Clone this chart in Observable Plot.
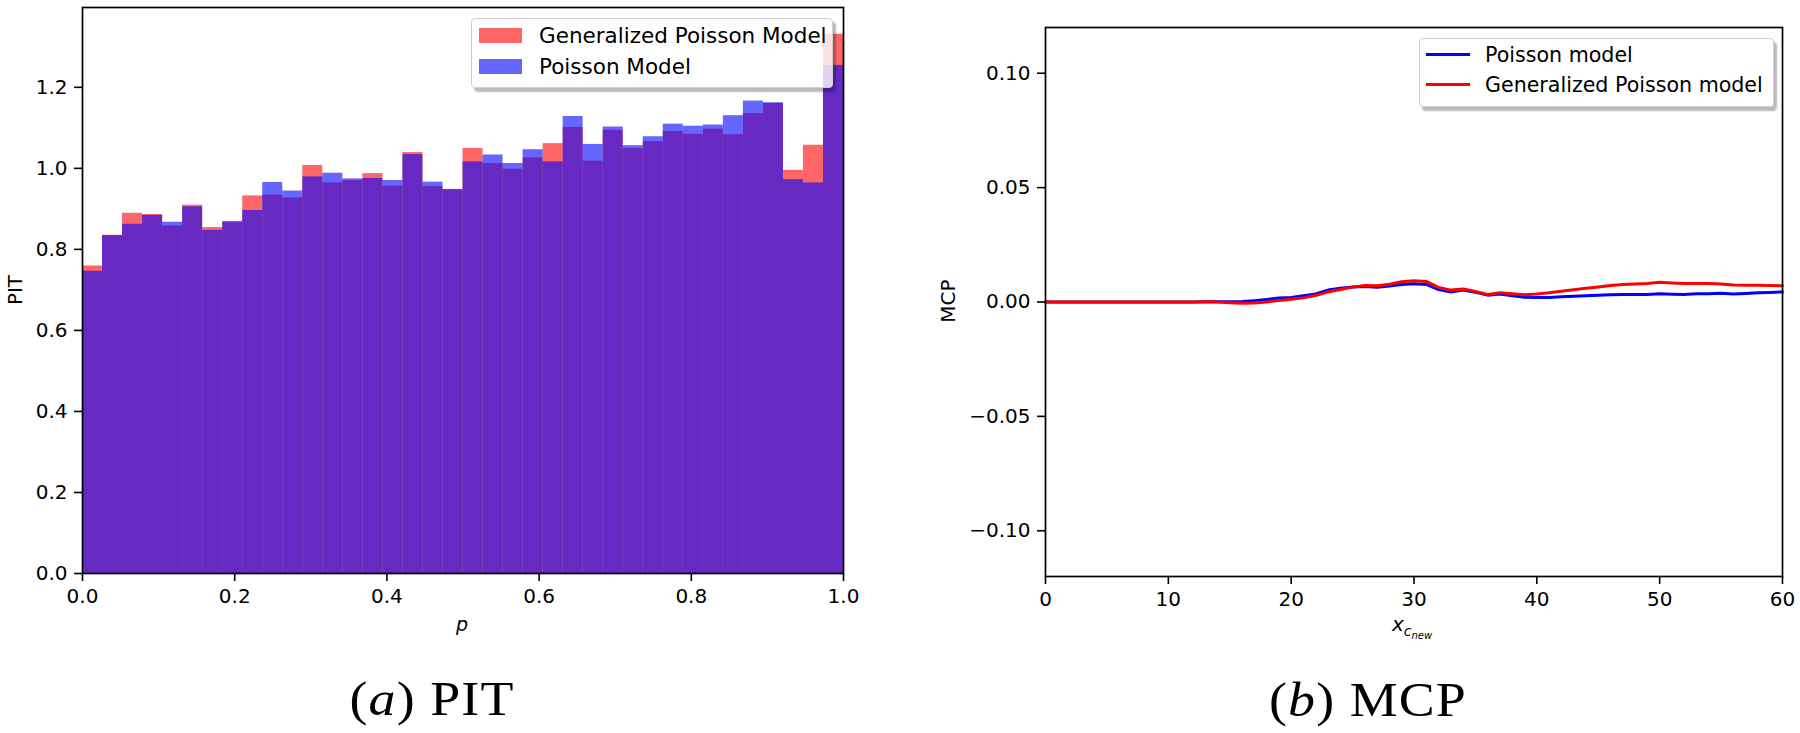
<!DOCTYPE html>
<html>
<head>
<meta charset="utf-8">
<script src="https://cdn.jsdelivr.net/npm/d3@7"></script>
<script src="https://cdn.jsdelivr.net/npm/@observablehq/plot@0.6"></script>
<style>
  html, body { margin: 0; padding: 0; background: #fff; }
  #root { position: relative; width: 1800px; height: 733px; overflow: hidden; font-family: "DejaVu Sans", sans-serif; color: #000; }
  #root > .panel { position: absolute; top: 0; }
  .abs { position: absolute; white-space: nowrap; }
  .lbl { font-size: 20px; line-height: 20px; }
  .legend { position: absolute; background: rgba(255,255,255,0.8); border: 1px solid #d0d0d0; border-radius: 4px; box-shadow: 3px 4px 2px rgba(0,0,0,0.28); box-sizing: border-box; }
  .cap { font-family: "Liberation Serif", serif; font-size: 49px; line-height: 49px; letter-spacing: 1px; }
</style>
</head>
<body>
<div id="root"></div>
<script>
// ---------- Data: (a) PIT histogram (38 equal bins on [0,1]) ----------
const binCount = 38;
const pitGeneralized = [0.759, 0.835, 0.889, 0.886, 0.858, 0.909, 0.854, 0.866, 0.932, 0.934,
                        0.927, 1.007, 0.964, 0.970, 0.987, 0.956, 1.039, 0.955, 0.947, 1.049,
                        1.012, 0.998, 1.026, 1.061, 1.101, 1.018, 1.094, 1.049, 1.066, 1.091,
                        1.084, 1.097, 1.083, 1.135, 1.160, 0.995, 1.057, 1.331];
const pitPoisson     = [0.746, 0.834, 0.862, 0.884, 0.867, 0.905, 0.847, 0.869, 0.896, 0.965,
                        0.944, 0.979, 0.988, 0.974, 0.975, 0.970, 1.034, 0.966, 0.948, 1.016,
                        1.033, 1.012, 1.046, 1.016, 1.128, 1.059, 1.102, 1.056, 1.078, 1.109,
                        1.104, 1.107, 1.130, 1.166, 1.162, 0.972, 0.964, 1.254];
const pitXTicks = [0, 0.2, 0.4, 0.6, 0.8, 1.0];
const pitYTicks = [0, 0.2, 0.4, 0.6, 0.8, 1.0, 1.2];

// ---------- Data: (b) MCP curves ----------
const mcpX = [0, 2, 4, 6, 8, 10, 12, 13, 14, 15, 16, 17, 18, 19, 20, 21, 22, 23, 24, 25, 26, 27, 28, 29, 30,
              31, 32, 33, 34, 35, 36, 37, 38, 39, 40, 41, 42, 43, 44, 45, 46, 47, 48, 49, 50,
              51, 52, 53, 54, 55, 56, 57, 58, 59, 60];
const mcpPoisson = [0, 0, 0, 0, 0, 0, 0, 0.0001, 0.0001, 0.0001, 0.0002, 0.0006, 0.0011, 0.0017, 0.0020,
                    0.0027, 0.0035, 0.0052, 0.0060, 0.0066, 0.0068, 0.0064, 0.0070, 0.0076, 0.0080,
                    0.0077, 0.0054, 0.0044, 0.0052, 0.0042, 0.0030, 0.0035, 0.0027, 0.0021, 0.0020,
                    0.0020, 0.0023, 0.0025, 0.0027, 0.0030, 0.0032, 0.0033, 0.0033, 0.0033, 0.0036,
                    0.0034, 0.0033, 0.0036, 0.0036, 0.0038, 0.0035, 0.0037, 0.0040, 0.0042, 0.0044];
const mcpGeneralized = [0, 0, 0, 0, 0, 0, 0, 0.0001, 0, -0.0003, -0.0006, -0.0004, 0, 0.0007, 0.0012,
                        0.0018, 0.0028, 0.0044, 0.0055, 0.0065, 0.0072, 0.0071, 0.0078, 0.0089, 0.0093,
                        0.0090, 0.0064, 0.0052, 0.0057, 0.0046, 0.0033, 0.0041, 0.0036, 0.0032, 0.0035,
                        0.0040, 0.0047, 0.0054, 0.0060, 0.0066, 0.0072, 0.0076, 0.0079, 0.0081, 0.0086,
                        0.0083, 0.0081, 0.0081, 0.0081, 0.0079, 0.0074, 0.0073, 0.0073, 0.0072, 0.0071];
const mcpXTicks = [0, 10, 20, 30, 40, 50, 60];
const mcpYTicks = [-0.10, -0.05, 0, 0.05, 0.10];

// ---------- Build tables ----------
const edges = d3.range(binCount + 1).map(i => i / binCount);
const toBins = vals => vals.map((v, i) => ({x1: edges[i], x2: edges[i + 1], y: v}));
const binsGen = toBins(pitGeneralized);
const binsPoi = toBins(pitPoisson);
const linePoi = mcpX.map((x, i) => ({x, y: mcpPoisson[i]}));
const lineGen = mcpX.map((x, i) => ({x, y: mcpGeneralized[i]}));

const axisStyle = {fontFamily: "DejaVu Sans", fontSize: "20px", color: "#000", background: "transparent", overflow: "visible"};

const pitPlot = Plot.plot({
  width: 900, height: 640,
  marginLeft: 82, marginRight: 57, marginTop: 7, marginBottom: 67,
  x: {domain: [0, 1]},
  y: {domain: [0, 1.397]},
  style: axisStyle,
  marks: [
    Plot.rect(binsGen, {x1: "x1", x2: "x2", y1: 0, y2: "y", fill: "#ff0000", fillOpacity: 0.6}),
    Plot.rect(binsPoi, {x1: "x1", x2: "x2", y1: 0, y2: "y", fill: "#0000ff", fillOpacity: 0.6}),
    Plot.frame({stroke: "#000", strokeWidth: 1.7}),
    Plot.axisX({ticks: pitXTicks, tickFormat: d3.format(".1f"), tickSize: 8, tickPadding: 7, label: null, strokeWidth: 1.6}),
    Plot.axisY({ticks: pitYTicks, tickFormat: d3.format(".1f"), tickSize: 8, tickPadding: 7, label: null, strokeWidth: 1.6})
  ]
});

const mcpPlot = Plot.plot({
  width: 900, height: 640,
  marginLeft: 145, marginRight: 18, marginTop: 27, marginBottom: 64,
  x: {domain: [0, 60]},
  y: {domain: [-0.12, 0.12]},
  style: axisStyle,
  marks: [
    Plot.line(linePoi, {x: "x", y: "y", stroke: "#0000ff", strokeWidth: 3}),
    Plot.line(lineGen, {x: "x", y: "y", stroke: "#ff0000", strokeWidth: 3}),
    Plot.frame({stroke: "#000", strokeWidth: 1.7}),
    Plot.axisX({ticks: mcpXTicks, tickFormat: d3.format("d"), tickSize: 8, tickPadding: 7, label: null, strokeWidth: 1.6}),
    Plot.axisY({ticks: mcpYTicks, tickFormat: d3.format(".2f"), tickSize: 8, tickPadding: 7, label: null, strokeWidth: 1.6})
  ]
});

const root = document.getElementById("root");
const p1 = document.createElement("div"); p1.className = "panel"; p1.style.left = "0px"; p1.appendChild(pitPlot);
const p2 = document.createElement("div"); p2.className = "panel"; p2.style.left = "900px"; p2.appendChild(mcpPlot);
root.appendChild(p1); root.appendChild(p2);

// ---------- Overlay text: axis titles, legends, captions ----------
function addHTML(html) { root.insertAdjacentHTML("beforeend", html); }

// axis titles
addHTML(`<div class="abs lbl" style="left:15px;top:290px;transform:translate(-50%,-50%) rotate(-90deg);">PIT</div>`);
addHTML(`<div class="abs lbl" style="left:948px;top:301px;transform:translate(-50%,-50%) rotate(-90deg);">MCP</div>`);
addHTML(`<div class="abs lbl" style="left:462px;top:614px;transform:translateX(-50%);font-style:italic;font-size:19px;">p</div>`);
addHTML(`<div class="abs lbl" style="left:1412px;top:614px;transform:translateX(-50%);font-style:italic;font-size:20px;">x<span style="font-size:14px;position:relative;top:5px;">c<span style="font-size:10px;position:relative;top:3px;">new</span></span></div>`);

// legend (a)
const legA = [
  {label: "Generalized Poisson Model", color: "rgba(255,0,0,0.6)"},
  {label: "Poisson Model", color: "rgba(0,0,255,0.6)"}
];
addHTML(`<div class="legend" style="left:471px;top:18px;width:362px;height:70px;"></div>`);
legA.forEach((d, i) => {
  const cy = 35.5 + i * 30.5;
  addHTML(`<div class="abs" style="left:479px;top:${cy - 7.5}px;width:43px;height:15px;background:${d.color};"></div>`);
  addHTML(`<div class="abs" style="left:539px;top:${cy + 8 - 18.2}px;font-size:21.5px;line-height:21.5px;">${d.label}</div>`);
});

// legend (b)
const legB = [
  {label: "Poisson model", color: "#0000ff"},
  {label: "Generalized Poisson model", color: "#ff0000"}
];
addHTML(`<div class="legend" style="left:1419px;top:38px;width:355px;height:69px;"></div>`);
legB.forEach((d, i) => {
  const cy = 54 + i * 30.5;
  addHTML(`<div class="abs" style="left:1426px;top:${Math.round(cy - 1.5)}px;width:44px;height:3px;background:${d.color};"></div>`);
  addHTML(`<div class="abs" style="left:1485px;top:${cy + 7.8 - 17.3}px;font-size:20.6px;line-height:20.6px;">${d.label}</div>`);
});

// captions
addHTML(`<div class="abs cap" style="left:432px;top:674px;transform:translateX(-50%) scaleX(1.1);">(<i>a</i>) PIT</div>`);
addHTML(`<div class="abs cap" style="left:1368px;top:675px;transform:translateX(-50%) scaleX(1.1);">(<i>b</i>) MCP</div>`);
</script>
</body>
</html>
